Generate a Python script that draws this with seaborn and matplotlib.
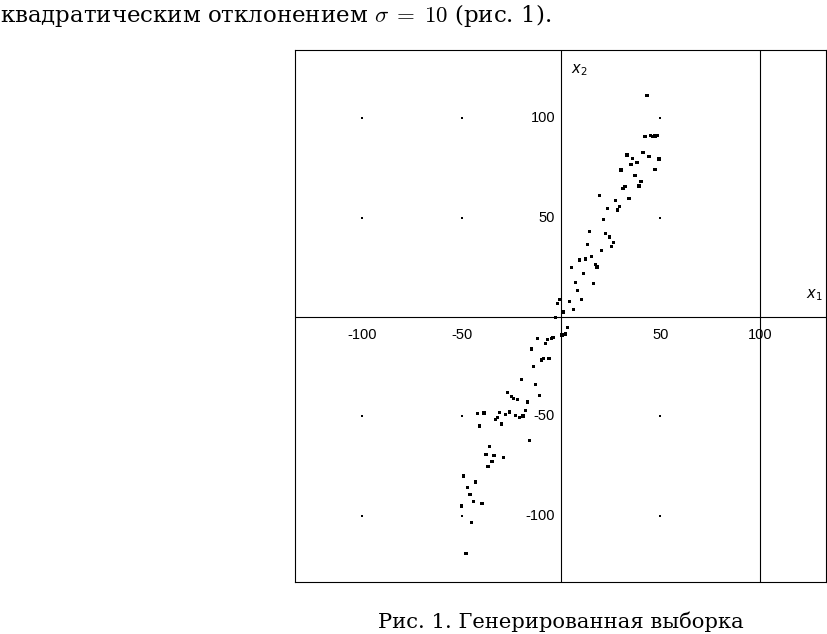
import numpy as np
import pandas as pd
import matplotlib
matplotlib.use("Agg")
import matplotlib.pyplot as plt
import seaborn as sns

# ---- data ----
x1 = [43.2, 42.2, 45.1, 46.1, 47.2, 48.4, 33.2, 36.0, 41.2, 44.2, 49.2, 35.2, 38.2,
      30.2, 47.2, 37.2, 40.2, 39.2, 32.2, 31.2, 19.4, 34.2, 27.5, 29.3, 28.5, 23.3,
      21.5, 14.4, 22.5, 24.5, 26.3, 25.3, 13.4, 20.5, 15.4, 12.4, 9.4, 17.3, 18.1,
      5.4, 11.4, 16.4, 7.4, 8.4, -0.7, -1.7, 4.4, 10.4, 6.4, 1.4, -2.8, 3.4, 2.4,
      0.5, -11.9, -6.9, -4.0, -4.9, -7.9, -14.9, -8.9, -9.9, -6.0, -13.9, -19.9,
      -12.7, -27.0, -10.9, -25.0, -23.8, -22.0, -16.9, -17.9, -26.0, -28.0, -30.8,
      -23.0, -21.0, -19.1, -31.8, -32.8, -29.8, -41.9, -38.8, -40.9, -15.9, -35.8,
      -37.7, -33.7, -29.0, -34.7, -36.7, -48.9, -42.9, -46.9, -45.7, -43.9, -39.8,
      -49.9, -44.9, -47.7]
x2 = [111.4, 90.6, 91.3, 90.6, 91.0, 91.3, 81.4, 79.7, 82.6, 80.7, 79.5, 76.7, 77.7,
      73.9, 74.2, 71.0, 68.2, 65.8, 65.5, 64.7, 61.2, 59.6, 58.6, 55.6, 53.8, 54.6,
      49.1, 43.1, 41.9, 40.2, 37.5, 35.5, 36.5, 33.5, 30.5, 29.1, 28.6, 26.5, 25.1,
      25.0, 22.0, 16.7, 17.4, 13.4, 8.7, 6.9, 7.7, 8.7, 3.9, 2.5, -0.2, -5.4, -8.5,
      -9.0, -10.7, -11.2, -10.2, -10.7, -13.2, -16.1, -21.0, -21.6, -21.0, -25.0,
      -31.5, -34.0, -38.0, -39.5, -40.0, -41.0, -41.4, -42.7, -47.1, -47.7, -49.1,
      -48.1, -49.4, -50.4, -49.7, -50.4, -51.4, -53.8, -48.6, -48.2, -54.8, -62.0,
      -65.2, -69.2, -69.7, -70.5, -72.5, -75.0, -80.0, -82.9, -85.8, -89.1, -92.6,
      -93.6, -95.0, -103.4, -118.8]
x_ticks = [-100, -50, 50, 100]
y_ticks = [100, 50, -50, -100]
x_tick_labels = ["-100", "-50", "50", "100"]
y_tick_labels = ["100", "50", "-50", "-100"]

df = pd.DataFrame({"x1": x1, "x2": x2})

sns.set_theme(style="white")
plt.rcParams["font.family"] = ["Liberation Sans", "DejaVu Sans"]
plt.rcParams["text.color"] = "black"

fig = plt.figure(figsize=(8.27, 6.34), dpi=100)
ax = fig.add_axes([295 / 827, 1 - 582 / 634, 531 / 827, 532 / 634])

sns.scatterplot(data=df, x="x1", y="x2", ax=ax, marker="s", s=6, color="black",
                edgecolor="none", linewidth=0, legend=False, zorder=3)

# faint grid dots
gx, gy = np.meshgrid([-100, -50, 50], y_ticks)
ax.scatter(gx.ravel(), gy.ravel(), s=0.6, color="black", marker="s", linewidths=0, zorder=2)

ax.set_xlim(-133.7, 133.2)
ax.set_ylim(-133.2, 134.2)
ax.axhline(0, color="black", lw=0.8, zorder=1)
ax.axvline(0, color="black", lw=0.8, zorder=1)
ax.axvline(100, color="black", lw=0.8, zorder=1)

ax.set_xticks([])
ax.set_yticks([])
ax.set_xlabel("")
ax.set_ylabel("")
for s in ax.spines.values():
    s.set_visible(True)
    s.set_color("black")
    s.set_linewidth(0.8)

for t, lab in zip(x_ticks, x_tick_labels):
    ax.text(t, -9, lab, ha="center", va="center", fontsize=10.5, color="black",
            family=["Liberation Sans"])
for t, lab in zip(y_ticks, y_tick_labels):
    ax.text(-3, t, lab, ha="right", va="center", fontsize=10.5, color="black",
            family=["Liberation Sans"])

ax.text(5, 124, r"$x_2$", fontsize=10.5, ha="left", va="center", color="black",
        math_fontfamily="dejavusans")
ax.text(123, 11, r"$x_1$", fontsize=10.5, ha="left", va="center", color="black",
        math_fontfamily="dejavusans")

fig.text(0.0, 1 - 22 / 634, "квадратическим отклонением $\\sigma\\;=\\;10$ (рис. 1).",
         fontsize=16.5, ha="left", va="baseline", family=["DejaVu Serif"],
         math_fontfamily="cm", color="black")
fig.text(561 / 827, 1 - 628 / 634, "Рис. 1. Генерированная выборка",
         fontsize=15.2, ha="center", va="baseline", family=["DejaVu Serif"], color="black")

fig.savefig("out.png", dpi=100)
